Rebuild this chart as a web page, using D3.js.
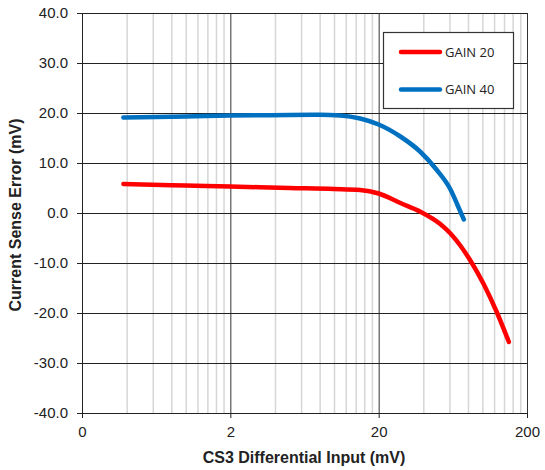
<!DOCTYPE html>
<html>
<head>
<meta charset="utf-8">
<script src="https://cdn.jsdelivr.net/npm/d3@7"></script>
<style>
  body { margin: 0; background: #fff; }
  svg { display: block; }
  .tick text { font-family: "Liberation Sans", Arial, sans-serif; }
</style>
</head>
<body>
<div id="chart"></div>
<script>
// values (mV)
var gain20_x = [0.38, 1, 2, 5, 10, 15, 20, 28, 38, 52, 61, 71, 83, 102, 125, 151];
var gain20_y = [5.8, 5.5, 5.3, 5.0, 4.8, 4.6, 3.9, 2.0, 0.3, -2.2, -4.1, -6.5, -9.5, -14.2, -19.8, -25.8];
var gain40_x = [0.38, 1, 2, 5, 8, 11, 15, 20, 28, 38, 49, 61, 68, 75];
var gain40_y = [19.1, 19.3, 19.5, 19.6, 19.65, 19.5, 18.9, 17.7, 15.3, 12.3, 8.7, 4.7, 1.6, -1.3];
var seriesNames = ["GAIN 20", "GAIN 40"];
var seriesColors = ["#ff0000", "#0070c0"];
var xTicks = [0.2, 2, 20, 200];
var xTickLabels = ["0", "2", "20", "200"];
var yTicks = [-40, -30, -20, -10, 0, 10, 20, 30, 40];

var width = 545, height = 470;
var pLeft = 82, pRight = 527, pTop = 13, pBottom = 413;

var svg = d3.select("#chart").append("svg")
    .attr("width", width)
    .attr("height", height);

var x = d3.scaleLog().domain([0.2, 200]).range([pLeft, pRight]);
var y = d3.scaleLinear().domain([-40, 40]).range([pBottom, pTop]);

// minor vertical grid (2..9 times each decade start)
var minor = [];
xTicks.slice(0, 3).forEach(function(b) {
  for (var k = 2; k <= 9; k++) minor.push(b * k);
});
svg.append("g")
    .attr("transform", "translate(0," + pBottom + ")")
    .call(d3.axisBottom(x).tickValues(minor).tickSize(-(pBottom - pTop)).tickFormat(""))
    .call(function(g) {
      g.select(".domain").remove();
      g.selectAll("line").attr("stroke", "#d6d6d6").attr("stroke-width", 1.5);
    });

// major vertical grid
svg.append("g")
    .attr("transform", "translate(0," + pBottom + ")")
    .call(d3.axisBottom(x).tickValues(xTicks.slice(1)).tickSize(-(pBottom - pTop)).tickFormat(""))
    .call(function(g) {
      g.select(".domain").remove();
      g.selectAll("line").attr("stroke", "#333").attr("stroke-width", 1);
    });

// horizontal grid
svg.append("g")
    .attr("transform", "translate(" + pLeft + ",0)")
    .call(d3.axisLeft(y).tickValues(yTicks).tickSize(-(pRight - pLeft)).tickFormat(""))
    .call(function(g) {
      g.select(".domain").remove();
      g.selectAll("line").attr("stroke", "#222").attr("stroke-width", 1);
    });

// axes
svg.append("g")
    .attr("transform", "translate(" + pLeft + ",0)")
    .call(d3.axisLeft(y).tickValues(yTicks).tickSize(5).tickSizeOuter(0).tickPadding(9)
      .tickFormat(function(d) { return d.toFixed(1); }))
    .call(function(g) {
      g.select(".domain").attr("stroke", "#222");
      g.selectAll("line").attr("stroke", "#222");
      g.selectAll("text").attr("font-size", 15).attr("fill", "#222");
    });

svg.append("g")
    .attr("transform", "translate(0," + pBottom + ")")
    .call(d3.axisBottom(x).tickValues(xTicks).tickSize(5).tickSizeOuter(0).tickPadding(8)
      .tickFormat(function(d, i) { return xTickLabels[i]; }))
    .call(function(g) {
      g.select(".domain").attr("stroke", "#222");
      g.selectAll("line").attr("stroke", "#222");
      g.selectAll("text").attr("font-size", 15).attr("fill", "#222");
    });

// series
var line = d3.line()
    .x(function(d) { return x(d[0]); })
    .y(function(d) { return y(d[1]); })
    .curve(d3.curveMonotoneX);

var series = [
  d3.zip(gain20_x, gain20_y),
  d3.zip(gain40_x, gain40_y)
];

series.forEach(function(s, i) {
  svg.append("path")
      .datum(s)
      .attr("fill", "none")
      .attr("stroke", seriesColors[i])
      .attr("stroke-width", 4.5)
      .attr("stroke-linecap", "round")
      .attr("stroke-linejoin", "round")
      .attr("d", line);
});

// axis titles
svg.append("text")
    .attr("x", 304)
    .attr("y", 463)
    .attr("text-anchor", "middle")
    .attr("font-family", "Liberation Sans, Arial, sans-serif")
    .attr("font-weight", "bold")
    .attr("font-size", 16)
    .attr("fill", "#222")
    .text("CS3 Differential Input (mV)");

svg.append("text")
    .attr("transform", "translate(21,215) rotate(-90)")
    .attr("text-anchor", "middle")
    .attr("font-family", "Liberation Sans, Arial, sans-serif")
    .attr("font-weight", "bold")
    .attr("font-size", 16)
    .attr("fill", "#222")
    .text("Current Sense Error (mV)");

// legend
var legend = svg.append("g");
legend.append("rect")
    .attr("x", 383.5).attr("y", 32.5)
    .attr("width", 130).attr("height", 76)
    .attr("fill", "#fff")
    .attr("stroke", "#333")
    .attr("stroke-width", 1.2);

seriesNames.forEach(function(name, i) {
  var ly = 52 + i * 37.5;
  legend.append("line")
      .attr("x1", 401).attr("x2", 440)
      .attr("y1", ly).attr("y2", ly)
      .attr("stroke", seriesColors[i])
      .attr("stroke-width", 4.5)
      .attr("stroke-linecap", "round");
  legend.append("text")
      .attr("x", 445)
      .attr("y", ly + 4.5)
      .attr("font-family", "Open Sans, sans-serif")
      .attr("font-size", 13)
      .attr("fill", "#222")
      .text(name);
});
</script>
</body>
</html>
